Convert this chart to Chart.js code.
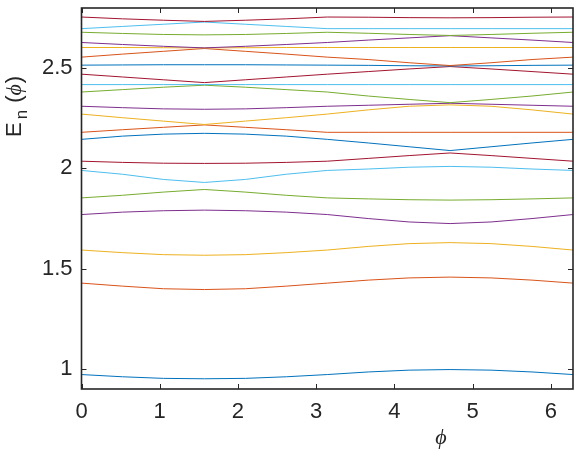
<!DOCTYPE html>
<html>
<head>
<meta charset="utf-8">
<script src="https://cdn.jsdelivr.net/npm/chart.js@4.4.1/dist/chart.umd.min.js"></script>
<style>
  html, body { margin: 0; padding: 0; background: #fff; }
  #wrap { width: 577px; height: 456px; }
</style>
</head>
<body>
<div id="wrap"><canvas id="chart" width="577" height="456"></canvas></div>
<script>
// phase values (x) and tick labels
const phi = [0, 0.5236, 1.0472, 1.5708, 2.0944, 2.618, 3.1416, 3.6652, 4.1888, 4.7124, 5.236, 5.7596, 6.2832];
const xTicks = [0, 1, 2, 3, 4, 5, 6];
const yTicks = [1, 1.5, 2, 2.5];

// energy levels E_n(phi), lowest first
const E1  = [0.972, 0.961, 0.953, 0.951, 0.953, 0.961, 0.972, 0.985, 0.994, 0.997, 0.994, 0.985, 0.972];
const E2  = [1.428, 1.413, 1.400, 1.396, 1.400, 1.413, 1.428, 1.443, 1.454, 1.458, 1.454, 1.443, 1.428];
const E3  = [1.593, 1.580, 1.570, 1.567, 1.570, 1.580, 1.593, 1.611, 1.625, 1.630, 1.625, 1.611, 1.593];
const E4  = [1.770, 1.782, 1.789, 1.792, 1.789, 1.782, 1.770, 1.750, 1.733, 1.725, 1.733, 1.750, 1.770];
const E5  = [1.853, 1.866, 1.882, 1.895, 1.882, 1.866, 1.853, 1.848, 1.844, 1.842, 1.844, 1.848, 1.853];
const E6  = [1.990, 1.971, 1.945, 1.930, 1.945, 1.971, 1.990, 1.997, 2.006, 2.010, 2.006, 1.997, 1.990];
const E7  = [2.036, 2.030, 2.026, 2.025, 2.026, 2.030, 2.036, 2.050, 2.064, 2.077, 2.064, 2.050, 2.036];
const E8  = [2.145, 2.161, 2.171, 2.175, 2.171, 2.161, 2.145, 2.127, 2.108, 2.089, 2.108, 2.127, 2.145];
const E9  = [2.180, 2.193, 2.205, 2.217, 2.205, 2.193, 2.180, 2.180, 2.180, 2.180, 2.180, 2.180, 2.180];
const E10 = [2.271, 2.253, 2.236, 2.219, 2.236, 2.253, 2.271, 2.292, 2.310, 2.317, 2.310, 2.292, 2.271];
const E11 = [2.310, 2.303, 2.297, 2.295, 2.297, 2.303, 2.310, 2.315, 2.320, 2.325, 2.320, 2.315, 2.310];
const E12 = [2.381, 2.393, 2.405, 2.415, 2.405, 2.393, 2.381, 2.361, 2.344, 2.328, 2.344, 2.361, 2.381];
const E13 = [2.418, 2.418, 2.418, 2.418, 2.418, 2.418, 2.418, 2.418, 2.418, 2.418, 2.418, 2.418, 2.418];
const E14 = [2.470, 2.456, 2.442, 2.428, 2.442, 2.456, 2.470, 2.483, 2.496, 2.508, 2.496, 2.483, 2.470];
const E15 = [2.515, 2.516, 2.517, 2.517, 2.517, 2.516, 2.515, 2.514, 2.512, 2.511, 2.512, 2.514, 2.515];
const E16 = [2.555, 2.570, 2.584, 2.598, 2.584, 2.570, 2.555, 2.543, 2.527, 2.513, 2.527, 2.543, 2.555];
const E17 = [2.603, 2.603, 2.602, 2.601, 2.602, 2.603, 2.603, 2.603, 2.603, 2.603, 2.603, 2.603, 2.603];
const E18 = [2.628, 2.618, 2.609, 2.601, 2.609, 2.618, 2.628, 2.640, 2.651, 2.662, 2.651, 2.640, 2.628];
const E19 = [2.679, 2.673, 2.668, 2.666, 2.668, 2.673, 2.679, 2.674, 2.668, 2.663, 2.668, 2.674, 2.679];
const E20 = [2.697, 2.708, 2.719, 2.730, 2.719, 2.708, 2.697, 2.697, 2.697, 2.697, 2.697, 2.697, 2.697];
const E21 = [2.755, 2.746, 2.739, 2.733, 2.739, 2.746, 2.755, 2.754, 2.752, 2.751, 2.752, 2.754, 2.755];

const levels = [E1, E2, E3, E4, E5, E6, E7, E8, E9, E10, E11, E12, E13, E14, E15, E16, E17, E18, E19, E20, E21];

// MATLAB default colour order
const colors = ['#0072BD', '#D95319', '#EDB120', '#7E2F8E', '#77AC30', '#4DBEEE', '#A2142F'];
const axisColor = '#262626';
const tickFont = { family: '"Liberation Sans", Arial, sans-serif', size: 22 };

const datasets = levels.map((vals, i) => ({
    data: vals.map((v, k) => ({ x: phi[k], y: v })),
    borderColor: colors[i % colors.length],
    borderWidth: 1,
    pointRadius: 0,
    tension: 0,
    fill: false,
    order: levels.length - i
}));

// box, inward ticks and the axis labels, MATLAB style
const matlabAxes = {
    id: 'matlabAxes',
    afterDraw(chart) {
        const { ctx, chartArea: a, scales } = chart;
        const len = 5;
        ctx.save();
        ctx.strokeStyle = axisColor;
        ctx.lineWidth = 1;
        ctx.beginPath();
        xTicks.forEach(v => {
            const px = Math.round(scales.x.getPixelForValue(v)) + 0.5;
            ctx.moveTo(px, a.bottom); ctx.lineTo(px, a.bottom - len);
            ctx.moveTo(px, a.top); ctx.lineTo(px, a.top + len);
        });
        yTicks.forEach(v => {
            const py = Math.round(scales.y.getPixelForValue(v)) + 0.5;
            ctx.moveTo(a.left, py); ctx.lineTo(a.left + len, py);
            ctx.moveTo(a.right, py); ctx.lineTo(a.right - len, py);
        });
        ctx.stroke();
        ctx.lineWidth = 1.6;
        ctx.strokeRect(a.left, a.top, a.right - a.left, a.bottom - a.top);

        // y label: E_n (phi), rotated
        ctx.fillStyle = axisColor;
        ctx.textBaseline = 'alphabetic';
        ctx.textAlign = 'left';
        ctx.translate(21, 137);
        ctx.rotate(-Math.PI / 2);
        ctx.font = '22px "Liberation Sans", Arial, sans-serif';
        ctx.fillText('E', 0, 0);
        let w = ctx.measureText('E').width + 3;
        ctx.font = '17px "Liberation Sans", Arial, sans-serif';
        ctx.fillText('n', w, 6);
        w += ctx.measureText('n').width + 7;
        ctx.font = '22px "Liberation Sans", Arial, sans-serif';
        ctx.fillText('(', w, 0);
        w += ctx.measureText('(').width;
        ctx.font = 'italic 22px "Liberation Serif", serif';
        ctx.fillText('\u03D5', w, 0);
        w += ctx.measureText('\u03D5').width + 1;
        ctx.font = '22px "Liberation Sans", Arial, sans-serif';
        ctx.fillText(')', w, 0);
        ctx.restore();

        // x label
        ctx.save();
        ctx.fillStyle = axisColor;
        ctx.font = 'italic 22px "Liberation Serif", serif';
        ctx.textAlign = 'center';
        ctx.textBaseline = 'alphabetic';
        ctx.fillText('\u03D5', 441, 444);
        ctx.restore();
    }
};

new Chart(document.getElementById('chart'), {
    type: 'line',
    data: { datasets },
    options: {
        responsive: false,
        animation: false,
        devicePixelRatio: 1,
        layout: { padding: { left: 0, right: 4, top: 8, bottom: 0 } },
        plugins: { legend: { display: false }, tooltip: { enabled: false } },
        scales: {
            x: {
                type: 'linear',
                min: 0,
                max: 6.2832,
                afterBuildTicks: s => { s.ticks = xTicks.map(v => ({ value: v })); },
                afterFit: s => { s.height = 67; s.paddingLeft = 0; s.paddingRight = 0; },
                grid: { display: false, drawTicks: false },
                border: { display: false },
                ticks: { font: tickFont, color: axisColor, padding: 10, maxRotation: 0, callback: v => String(v) }
            },
            y: {
                type: 'linear',
                min: 0.9,
                max: 2.8,
                afterBuildTicks: s => { s.ticks = yTicks.map(v => ({ value: v })); },
                afterFit: s => { s.width = 81.5; s.paddingTop = 0; s.paddingBottom = 0; },
                grid: { display: false, drawTicks: false },
                border: { display: false },
                ticks: { font: tickFont, color: axisColor, padding: 9, callback: v => String(v) }
            }
        }
    },
    plugins: [matlabAxes]
});
</script>
</body>
</html>
